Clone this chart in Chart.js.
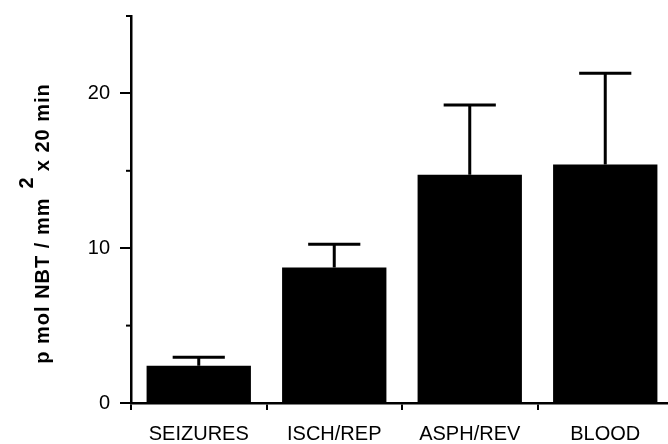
<!DOCTYPE html>
<html>
<head>
<meta charset="utf-8">
<script src="https://cdn.jsdelivr.net/npm/chart.js@4"></script>
<style>
	html, body { margin: 0; padding: 0; background: #fff; overflow: hidden; }
	#wrap { width: 668px; height: 444px; overflow: hidden; position: relative; }
	#nbtChart { position: absolute; left: 0; top: -6px; }
</style>
</head>
<body>
<div id="wrap"><canvas id="nbtChart" width="680" height="450"></canvas></div>
<script>
// data
const categories = ["SEIZURES", "ISCH/REP", "ASPH/REV", "BLOOD"];
const nbtValues = [2.4, 8.75, 14.75, 15.4];
const nbtErrors = [0.55, 1.5, 4.5, 5.9];
const yTickLabels = [0, 10, 20];

const FONT = "'Liberation Sans', Arial, Helvetica, sans-serif";

// error bars drawn on top of each bar, through the y scale
const errorBars = {
	id: "errorBars",
	afterDatasetsDraw(chart) {
		const ctx = chart.ctx;
		const yScale = chart.scales.y;
		const meta = chart.getDatasetMeta(0);
		ctx.save();
		ctx.strokeStyle = "#000";
		ctx.lineWidth = 3;
		meta.data.forEach((bar, i) => {
			const top = yScale.getPixelForValue(nbtValues[i] + nbtErrors[i]);
			const half = bar.width / 4;
			ctx.beginPath();
			ctx.moveTo(bar.x, bar.y);
			ctx.lineTo(bar.x, top);
			ctx.moveTo(bar.x - half, top);
			ctx.lineTo(bar.x + half, top);
			ctx.stroke();
		});
		ctx.restore();
	}
};

// short minor ticks on the y axis and the rotated axis title
const axisExtras = {
	id: "axisExtras",
	afterDraw(chart) {
		const ctx = chart.ctx;
		const yScale = chart.scales.y;
		const left = chart.chartArea.left;
		ctx.save();
		ctx.strokeStyle = "#000";
		ctx.lineWidth = 2;
		[5, 15, 25].forEach(v => {
			const y = yScale.getPixelForValue(v);
			ctx.beginPath();
			ctx.moveTo(left - 5, y);
			ctx.lineTo(left, y);
			ctx.stroke();
		});

		// y title, the "2" sits raised after "mm"
		const main = "p mol NBT / mm    x 20 min";
		const before = "p mol NBT / mm";
		ctx.font = "bold 20px " + FONT;
		ctx.letterSpacing = "1px";
		ctx.fillStyle = "#000";
		ctx.textBaseline = "alphabetic";
		const w = ctx.measureText(main).width;
		const cy = (chart.chartArea.top + chart.chartArea.bottom) / 2 + 14;
		ctx.translate(49, cy);
		ctx.rotate(-Math.PI / 2);
		ctx.fillText(main, -w / 2, 0);
		const off = ctx.measureText(before).width;
		ctx.fillText("2", -w / 2 + off + 9, -16);
		ctx.restore();
	}
};

const ctx = document.getElementById("nbtChart").getContext("2d");
new Chart(ctx, {
	type: "bar",
	data: {
		labels: categories,
		datasets: [{
			data: nbtValues,
			backgroundColor: "#000",
			borderWidth: 0,
			barPercentage: 0.77,
			categoryPercentage: 1.0
		}]
	},
	options: {
		responsive: false,
		animation: false,
		layout: {
			padding: { left: 0, right: 7, top: 0, bottom: 0 }
		},
		plugins: {
			legend: { display: false },
			tooltip: { enabled: false }
		},
		scales: {
			x: {
				offset: true,
				afterFit: scale => { scale.height = 41; },
				border: { display: true, color: "#000", width: 2.5 },
				grid: {
					offset: true,
					drawOnChartArea: false,
					drawTicks: true,
					tickLength: 7,
					color: "#000",
					lineWidth: 2
				},
				ticks: {
					color: "#000",
					padding: 12,
					font: { family: FONT, size: 20 }
				}
			},
			y: {
				min: 0,
				max: 25,
				afterFit: scale => { scale.width = 131; },
				border: { display: true, color: "#000", width: 2.5 },
				grid: {
					drawOnChartArea: false,
					drawTicks: true,
					tickLength: 11,
					lineWidth: 2,
					color: c => (yTickLabels.includes(c.tick.value) ? "#000" : "rgba(0,0,0,0)")
				},
				ticks: {
					stepSize: 5,
					color: "#000",
					padding: 10,
					font: { family: FONT, size: 20 },
					callback: v => (yTickLabels.includes(v) ? String(v) : "")
				}
			}
		}
	},
	plugins: [errorBars, axisExtras]
});
</script>
</body>
</html>
